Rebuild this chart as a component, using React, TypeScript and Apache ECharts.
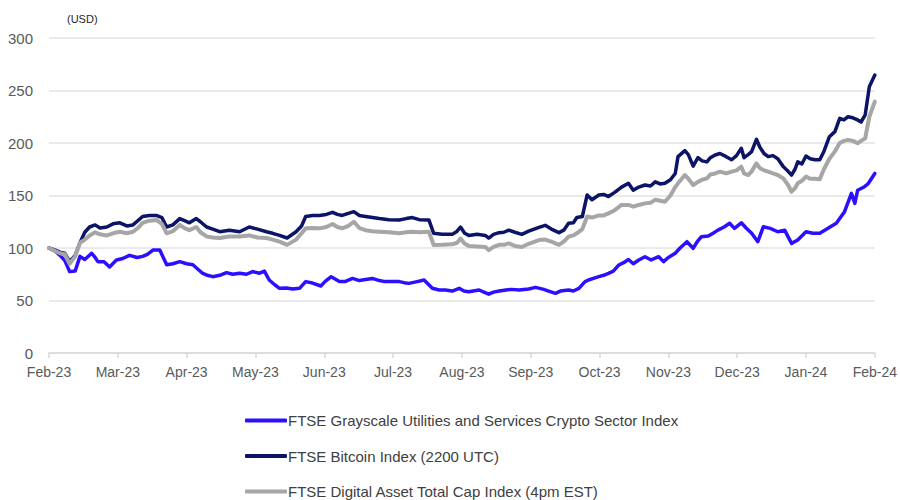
import React, { useEffect, useRef } from "react";
import * as echarts from "echarts";

const monthLabels = ["Feb-23", "Mar-23", "Apr-23", "May-23", "Jun-23", "Jul-23", "Aug-23", "Sep-23", "Oct-23", "Nov-23", "Dec-23", "Jan-24", "Feb-24"];

const seriesNames = [
  "FTSE Grayscale Utilities and Services Crypto Sector Index",
  "FTSE Bitcoin Index (2200 UTC)",
  "FTSE Digital Asset Total Cap Index (4pm EST)",
];

// time in months since Feb-23
const btcTimes = [0, 0.09, 0.16, 0.23, 0.3, 0.38, 0.45, 0.52, 0.59, 0.67, 0.74, 0.84, 0.93, 1.03, 1.13, 1.22, 1.29, 1.36, 1.46, 1.56, 1.64, 1.71, 1.8, 1.9, 1.97, 2.04, 2.14, 2.2, 2.29, 2.38, 2.48, 2.62, 2.77, 2.91, 3.03, 3.16, 3.25, 3.35, 3.46, 3.59, 3.67, 3.73, 3.83, 3.93, 4.03, 4.12, 4.19, 4.26, 4.35, 4.43, 4.51, 4.6, 4.7, 4.8, 4.94, 5.09, 5.19, 5.28, 5.38, 5.52, 5.59, 5.71, 5.86, 5.93, 5.98, 6.04, 6.1, 6.22, 6.34, 6.39, 6.46, 6.54, 6.61, 6.68, 6.77, 6.87, 6.97, 7.12, 7.21, 7.3, 7.41, 7.48, 7.55, 7.62, 7.67, 7.75, 7.82, 7.89, 7.99, 8.06, 8.13, 8.22, 8.32, 8.42, 8.49, 8.57, 8.66, 8.74, 8.81, 8.88, 8.95, 9.03, 9.1, 9.14, 9.24, 9.29, 9.36, 9.43, 9.49, 9.56, 9.61, 9.68, 9.75, 9.84, 9.92, 9.99, 10.06, 10.1, 10.16, 10.21, 10.28, 10.33, 10.39, 10.45, 10.52, 10.59, 10.67, 10.74, 10.79, 10.84, 10.88, 10.94, 11.0, 11.06, 11.13, 11.2, 11.26, 11.34, 11.42, 11.49, 11.55, 11.61, 11.68, 11.75, 11.8, 11.86, 11.92, 12.0];

const btcValues = [100, 98, 96, 95, 87, 93, 105, 115, 120, 122, 119, 120, 123, 124, 121, 122, 126, 130, 131, 131, 129, 120, 122, 128, 126, 124, 128, 125, 120, 118, 115.5, 117, 115.5, 120, 118, 115.5, 114, 112, 109.5, 115.5, 121, 130, 131, 131, 132, 134, 132, 131, 133, 134.6, 131, 130, 129, 128, 127, 126.7, 128, 129, 127, 126.7, 114, 113, 113, 116, 120, 114, 112, 113, 112, 109.5, 113, 114.6, 115, 117, 115, 113, 116, 119.7, 121.6, 118, 114.6, 117, 123.5, 124, 129, 130, 150.5, 146, 150.5, 151, 149, 153, 158, 161.6, 155, 158, 160, 159, 163, 161, 161.6, 165, 171, 187, 192.7, 189, 178, 186, 183, 182, 186, 188.6, 190, 187, 184, 188, 195, 186, 189, 191.7, 203.5, 196, 190, 187, 188, 185, 177.5, 173, 169.5, 175, 182, 180, 187.6, 185, 184, 184, 192, 206, 210.8, 223.5, 222, 225, 224, 222, 220, 226.7, 253.6, 264.8];

const totalCapValues = [100, 97, 95, 94, 85, 92, 105, 108, 112, 115, 113, 112, 114, 115.5, 114, 115.5, 119, 124, 126, 126.7, 123, 114, 116, 122, 119, 117, 120, 115, 111, 110, 109.5, 111, 111, 112, 110, 109.5, 108, 106, 103, 108, 114, 118.7, 119, 118.7, 120, 122.9, 120, 118.7, 121, 125, 119, 117, 116, 115.5, 115, 114, 115, 115.5, 115, 115.5, 102.9, 103, 103.5, 105, 109, 104, 102, 101.5, 101, 98, 101, 103, 103, 104.4, 102, 101, 104, 107.6, 108, 106, 103, 106, 110.8, 112, 114, 118, 130, 129, 131, 131, 133, 136, 141, 141, 139.4, 141, 142.5, 143, 146, 145, 144, 150, 158, 161.6, 169.5, 166, 160, 163, 165, 166.3, 170, 171, 172.7, 171, 172.7, 174, 177.5, 171, 169.5, 173, 180.6, 176, 174, 172.7, 171, 169.5, 166.3, 160, 153.6, 157, 161.6, 164, 168, 166, 166, 165.4, 175, 185, 192, 200, 202, 203, 202, 199.7, 202, 204.4, 225, 239.4];

const cryptoTimes = [0, 0.09, 0.16, 0.23, 0.3, 0.38, 0.45, 0.52, 0.62, 0.67, 0.71, 0.8, 0.88, 0.98, 1.07, 1.17, 1.28, 1.36, 1.43, 1.51, 1.61, 1.71, 1.8, 1.9, 2.0, 2.09, 2.16, 2.23, 2.3, 2.38, 2.48, 2.58, 2.67, 2.77, 2.87, 2.96, 3.06, 3.13, 3.2, 3.28, 3.35, 3.45, 3.54, 3.64, 3.73, 3.83, 3.95, 4.01, 4.1, 4.22, 4.3, 4.41, 4.51, 4.6, 4.7, 4.8, 4.88, 4.99, 5.09, 5.16, 5.23, 5.35, 5.45, 5.57, 5.67, 5.76, 5.86, 5.96, 6.03, 6.1, 6.25, 6.32, 6.39, 6.46, 6.54, 6.64, 6.72, 6.83, 6.97, 7.07, 7.19, 7.26, 7.36, 7.43, 7.55, 7.62, 7.7, 7.79, 7.84, 7.91, 7.99, 8.06, 8.13, 8.2, 8.28, 8.35, 8.42, 8.49, 8.57, 8.66, 8.75, 8.86, 8.93, 9.0, 9.1, 9.17, 9.27, 9.36, 9.42, 9.48, 9.58, 9.65, 9.72, 9.81, 9.89, 9.96, 10.06, 10.13, 10.21, 10.3, 10.38, 10.48, 10.59, 10.69, 10.79, 10.88, 11.0, 11.1, 11.2, 11.32, 11.44, 11.56, 11.66, 11.71, 11.75, 11.85, 11.9, 12.0];

const cryptoValues = [100, 97, 93, 88, 77.5, 78, 92, 89, 95, 91, 87, 87, 82, 88.6, 90, 93, 91, 92, 94, 98, 98, 84, 85, 87, 85, 84, 80, 76, 74, 72.7, 74, 76.5, 75, 76, 75, 77.5, 76, 78, 69.5, 65, 61.6, 62, 61, 61.6, 68, 66.6, 63.8, 68, 72.7, 68, 68, 71, 69, 70, 71, 69, 68, 68, 68, 67, 66.3, 68, 69.5, 61.6, 60, 60, 59, 61.6, 59, 58.4, 60, 58, 56, 58, 59, 60, 60.6, 60, 61, 62.5, 60.6, 59, 56.8, 59, 60, 59, 61.6, 68, 69.5, 71, 72.7, 74, 75.9, 78, 83.8, 86, 89, 85, 88.6, 91.7, 88.6, 91.7, 87, 91, 95, 100, 106, 99.7, 106, 110.8, 111.4, 114, 117, 120, 123.5, 118.7, 124, 119, 114, 106, 120.3, 118.7, 115.5, 117, 104.4, 107.6, 115.5, 114, 114, 118.7, 123.5, 134.6, 152, 142.5, 155, 158.4, 161, 171];

const colors = ["#2b0fff", "#0b1466", "#a6a6a6"];
const FONT = "Liberation Sans";

export default function App() {
  const ref = useRef<HTMLDivElement>(null);
  useEffect(() => {
    if (!ref.current) return;
    const chart = echarts.init(ref.current, null, { renderer: "svg" });
    const pair = (t: number[], v: number[]) => t.map((x, i) => [x, v[i]]);
    const mk = (i: number, data: number[][], w: number) => ({
      name: seriesNames[i],
      type: "line",
      data,
      showSymbol: false,
      symbol: "none",
      lineStyle: { color: colors[i], width: w, join: "round", cap: "round" },
      itemStyle: { color: colors[i] },
    });
    chart.setOption({
      animation: false,
      textStyle: { fontFamily: FONT },
      grid: { left: 49, right: 23, top: 38, bottom: 147, containLabel: false },
      graphic: [
        {
          type: "text",
          left: 67,
          top: 13,
          style: { text: "(USD)", fontSize: 11, fill: "#262626", fontFamily: FONT },
        },
      ],
      xAxis: {
        type: "value",
        min: 0,
        max: 12,
        interval: 1,
        axisLine: { show: true, lineStyle: { color: "#d9d9d9", width: 1.5 } },
        axisTick: { show: true, length: 5, lineStyle: { color: "#d9d9d9", width: 1.5 } },
        splitLine: { show: false },
        axisLabel: {
          color: "#595959",
          fontSize: 14,
          fontFamily: FONT,
          margin: 12,
          showMinLabel: true,
          showMaxLabel: true,
          formatter: (v: number) => monthLabels[Math.round(v)] ?? "",
        },
      },
      yAxis: {
        type: "value",
        min: 0,
        max: 300,
        interval: 50,
        axisLine: { show: false },
        axisTick: { show: false },
        splitLine: { show: true, lineStyle: { color: "#e3e3e3", width: 1.5 } },
        axisLabel: { color: "#595959", fontSize: 15, fontFamily: FONT, margin: 16 },
      },
      legend: {
        orient: "vertical",
        left: 245,
        top: 413,
        height: 100,
        padding: 0,
        itemWidth: 42,
        itemHeight: 4,
        itemGap: 20.5,
        icon: "roundRect",
        data: seriesNames,
        textStyle: { color: "#404040", fontSize: 15, fontFamily: FONT, padding: [0, 0, 0, -4] },
      },
      series: [
        mk(0, pair(cryptoTimes, cryptoValues), 3.5),
        mk(1, pair(btcTimes, btcValues), 3.5),
        mk(2, pair(btcTimes, totalCapValues), 4),
      ],
    });
    return () => chart.dispose();
  }, []);
  return <div ref={ref} style={{ width: 900, height: 500, position: "absolute", left: 0, top: 0 }} />;
}
